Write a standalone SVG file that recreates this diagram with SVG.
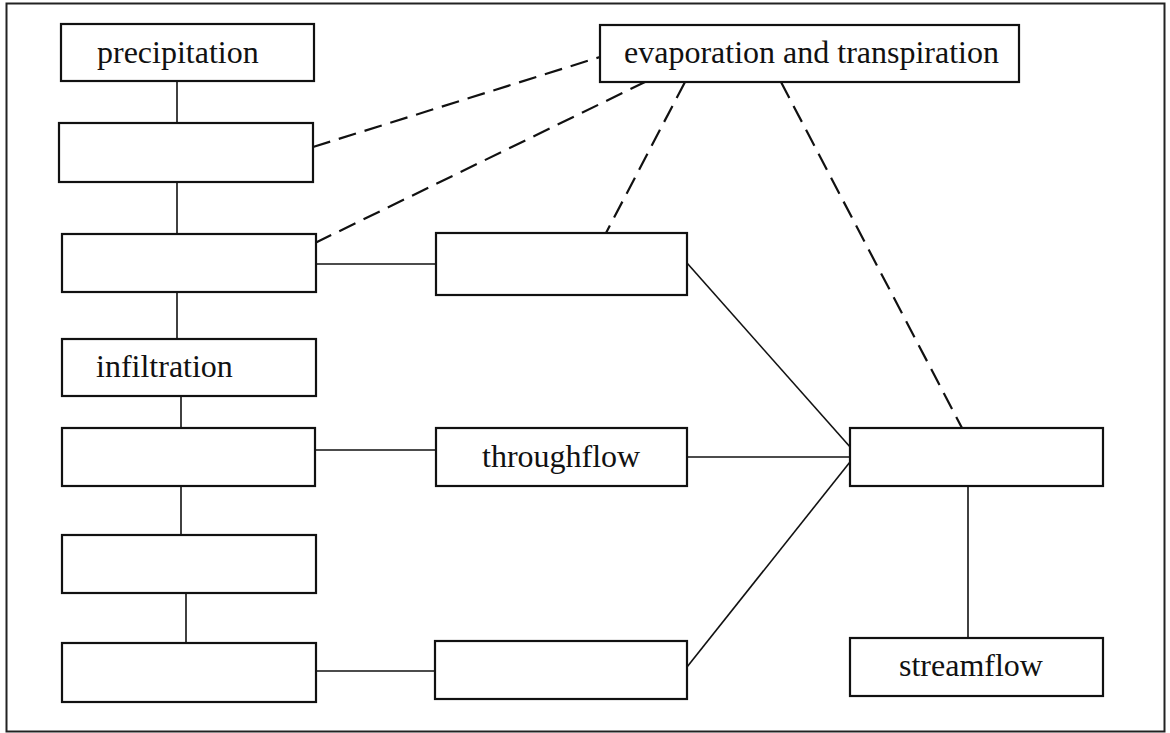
<svg xmlns="http://www.w3.org/2000/svg" width="1170" height="733" viewBox="0 0 1170 733">
<style>
.box{fill:#fff;stroke:#111;stroke-width:2.2}
.ln{stroke:#111;stroke-width:1.6;fill:none}
.dash{stroke:#111;stroke-width:2.2;fill:none;stroke-dasharray:18 9}
.lbl{font-family:"Liberation Serif","Times New Roman",serif;font-size:32px;fill:#111}
</style>
<rect x="0" y="0" width="1170" height="733" fill="#fff"/>
<rect x="6.5" y="3.5" width="1158" height="728" fill="none" stroke="#222" stroke-width="2"/>
<g id="connectors">
<line class="ln" x1="177" y1="81" x2="177" y2="123"/>
<line class="ln" x1="177" y1="182" x2="177" y2="234"/>
<line class="ln" x1="177" y1="292" x2="177" y2="339"/>
<line class="ln" x1="181" y1="396" x2="181" y2="428"/>
<line class="ln" x1="181" y1="486" x2="181" y2="535"/>
<line class="ln" x1="186" y1="593" x2="186" y2="643"/>
<line class="ln" x1="316" y1="264" x2="436" y2="264"/>
<line class="ln" x1="316" y1="450" x2="436" y2="450"/>
<line class="ln" x1="687" y1="457" x2="850" y2="457"/>
<line class="ln" x1="316" y1="671" x2="435" y2="671"/>
<line class="ln" x1="687" y1="667" x2="850" y2="462"/>
<line class="ln" x1="687" y1="263" x2="851" y2="448"/>
<line class="ln" x1="968" y1="486" x2="968" y2="638"/>
<line class="dash" x1="313" y1="147" x2="600" y2="57"/>
<line class="dash" x1="315" y1="243" x2="645" y2="82"/>
<line class="dash" x1="685" y1="82" x2="606" y2="233"/>
<line class="dash" x1="781" y1="82" x2="962" y2="428"/>
</g>
<g id="precipitation"><rect class="box" x="61" y="24" width="253" height="57"/><text class="lbl" x="97" y="63">precipitation</text></g>
<g id="box2"><rect class="box" x="59" y="123" width="254" height="59"/></g>
<g id="box3"><rect class="box" x="62" y="234" width="254" height="58"/></g>
<g id="infiltration"><rect class="box" x="62" y="339" width="254" height="57"/><text class="lbl" x="96" y="377">infiltration</text></g>
<g id="box5"><rect class="box" x="62" y="428" width="253" height="58"/></g>
<g id="box6"><rect class="box" x="62" y="535" width="254" height="58"/></g>
<g id="box7"><rect class="box" x="62" y="643" width="254" height="59"/></g>
<g id="boxMidTop"><rect class="box" x="436" y="233" width="251" height="62"/></g>
<g id="throughflow"><rect class="box" x="436" y="428" width="251" height="58"/><text class="lbl" x="482" y="467">throughflow</text></g>
<g id="boxMidBottom"><rect class="box" x="435" y="641" width="252" height="58"/></g>
<g id="evaporation"><rect class="box" x="600" y="25" width="419" height="57"/><text class="lbl" x="624" y="63">evaporation and transpiration</text></g>
<g id="boxRight"><rect class="box" x="850" y="428" width="253" height="58"/></g>
<g id="streamflow"><rect class="box" x="850" y="638" width="253" height="58"/><text class="lbl" x="899" y="676">streamflow</text></g>
</svg>
